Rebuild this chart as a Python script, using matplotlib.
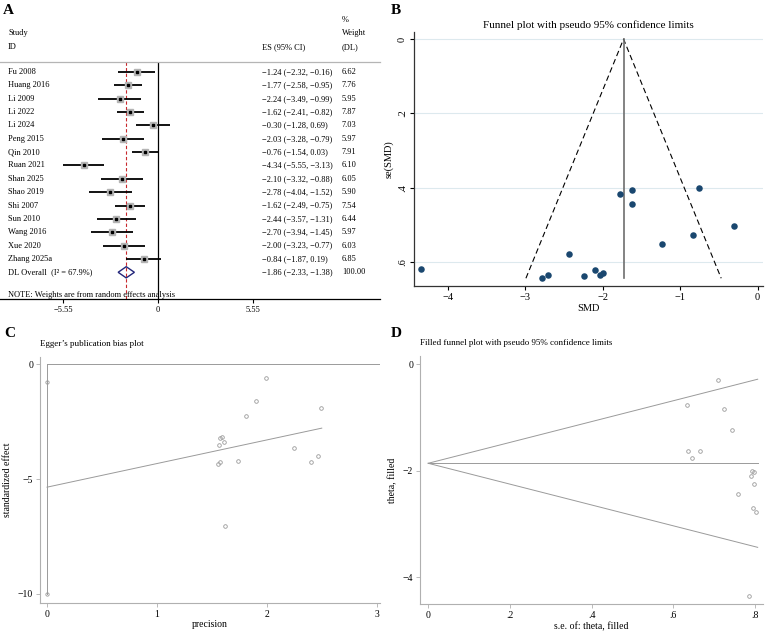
import matplotlib
matplotlib.use("Agg")
import matplotlib.pyplot as plt
from matplotlib.patches import Polygon

plt.rcParams['font.family'] = ['Liberation Serif', 'DejaVu Serif']

W, H = 767, 633

# --- panel A : forest plot data
studies = ["Fu 2008", "Huang 2016", "Li 2009", "Li 2022", "Li 2024", "Peng 2015",
           "Qin 2010", "Ruan 2021", "Shan 2025", "Shao 2019", "Shi 2007", "Sun 2010",
           "Wang 2016", "Xue 2020", "Zhang 2025a"]
es = [-1.24, -1.77, -2.24, -1.62, -0.30, -2.03, -0.76, -4.34, -2.10, -2.78, -1.62, -2.44, -2.70, -2.00, -0.84]
lo = [-2.32, -2.58, -3.49, -2.41, -1.28, -3.28, -1.54, -5.55, -3.32, -4.04, -2.49, -3.57, -3.94, -3.23, -1.87]
hi = [-0.16, -0.95, -0.99, -0.82, 0.69, -0.79, 0.03, -3.13, -0.88, -1.52, -0.75, -1.31, -1.45, -0.77, 0.19]
weights = [6.62, 7.76, 5.95, 7.87, 7.03, 5.97, 7.91, 6.10, 6.05, 5.90, 7.54, 6.44, 5.97, 6.03, 6.85]
ov_es, ov_lo, ov_hi, ov_w = -1.86, -2.33, -1.38, 100.00
i2 = 67.9
forest_ticks = [-5.55, 0, 5.55]

# --- panel B : funnel plot (SMD vs se)
se_b = [0.551, 0.416, 0.638, 0.406, 0.503, 0.635, 0.401, 0.617, 0.622, 0.643, 0.444, 0.577, 0.635, 0.628, 0.526]
fixed_es = -1.73

# --- panel C : Egger plot
precision = [1.815, 2.404, 1.568, 2.465, 1.99, 1.575, 2.49, 1.62, 1.607, 1.556, 2.25, 1.735, 1.575, 1.592, 1.90]
std_eff = [-2.25, -4.25, -3.51, -3.99, -0.60, -3.20, -1.90, -7.03, -3.38, -4.32, -3.65, -4.23, -4.25, -3.18, -1.60]
egger_ci = [-0.76, -10.0]
egger_line_x = [0, 2.50]
egger_line_y = [-5.35, -2.78]

# --- panel D : filled funnel
theta_d = [-0.30, -0.76, -0.84, -1.24, -1.62, -1.62, -1.77, -2.00, -2.03, -2.10, -2.24, -2.44, -2.70, -2.78, -4.35]
se_d = [0.709, 0.632, 0.724, 0.742, 0.636, 0.666, 0.646, 0.791, 0.797, 0.789, 0.798, 0.758, 0.795, 0.803, 0.785]
se_max_d = 0.806


def box(l, t, r, b):
    return [l / W, 1 - b / H, (r - l) / W, (b - t) / H]


def mstr(v):
    return f"{v:.2f}".replace("-", "\u2212")


fig = plt.figure(figsize=(W / 100, H / 100), dpi=100)

# ================= A =================
ax = fig.add_axes(box(0, 62, 380, 299))
px = 17.1
ax.set_xlim(-158 / px, (380 - 158) / px)
ax.set_ylim(17.0, -0.75)
for s in ["left", "right"]:
    ax.spines[s].set_visible(False)
ax.spines["top"].set_color("#b5b5b5")
ax.spines["top"].set_linewidth(0.9)
ax.spines["bottom"].set_linewidth(0.9)
ax.set_yticks([])
ax.set_xticks(forest_ticks)
ax.set_xticklabels([mstr(t) if t else "0" for t in forest_ticks], fontsize=6)
ax.tick_params(axis="x", length=3, width=0.8, pad=2)

ax.plot([0, 0], [-0.75, 17.0], color="black", lw=0.9)
ax.plot([ov_es, ov_es], [-0.75, 17.0], color="#c8282d", lw=0.8, dashes=(3, 2))
rows = list(range(len(studies)))
ax.hlines(rows, lo, hi, color="black", lw=1.3)
ax.plot(es, rows, "s", ms=3.8, color="#b4b4b4")
ax.plot(es, rows, "s", ms=1.8, color="black")
ov_row = len(studies)
ax.add_patch(Polygon([(ov_lo, ov_row), (ov_es, ov_row - 0.42), (ov_hi, ov_row), (ov_es, ov_row + 0.42)],
                     closed=True, fill=False, edgecolor="#23267a", lw=1.0))

fs = 6
xs, xe, xw = -8.77, 6.08, 10.76
for r, name in enumerate(studies):
    ax.text(xs, r, name, fontsize=fs, va="center")
    ax.text(xe, r, f"{mstr(es[r])} ({mstr(lo[r])}, {mstr(hi[r])})", fontsize=fs, va="center")
    ax.text(xw, r, f"{weights[r]:.2f}", fontsize=fs, va="center")
ax.text(xs, ov_row, f"DL Overall  (I\u00b2 = {i2}%)", fontsize=fs, va="center")
ax.text(xe, ov_row, f"{mstr(ov_es)} ({mstr(ov_lo)}, {mstr(ov_hi)})", fontsize=fs, va="center")
ax.text(xw, ov_row, f"{ov_w:.2f}", fontsize=fs, va="center")
ax.text(xs, 16.68, "NOTE: Weights are from random effects analysis", fontsize=fs, va="center")
for txt, x, r in [("Study", xs, -2.92), ("ID", xs, -1.87), ("ES (95% CI)", xe, -1.87),
                  ("%", xw, -3.9), ("Weight", xw, -2.92), ("(DL)", xw, -1.87)]:
    ax.text(x, r, txt, fontsize=fs, va="center", clip_on=False)

# ================= B =================
bx = fig.add_axes(box(414, 32, 763, 285.7))
bx.set_xlim(-4.435, 0.07)
bx.set_ylim(0.663, -0.019)
for s in ["top", "right"]:
    bx.spines[s].set_visible(False)
for s in ["left", "bottom"]:
    bx.spines[s].set_linewidth(0.9)
    bx.spines[s].set_color("#333333")
bx.set_yticks([0, 0.2, 0.4, 0.6])
bx.set_yticklabels(["0", ".2", ".4", ".6"], rotation=90, va="center", fontsize=7.5)
bx.set_xticks([-4, -3, -2, -1, 0])
bx.set_xticklabels(["\u22124", "\u22123", "\u22122", "\u22121", "0"], fontsize=7.5)
bx.tick_params(length=3, width=0.8, pad=2)
bx.grid(axis="y", color="#dde9ee", lw=0.8)
bx.set_axisbelow(True)
se_top = max(se_b)
bx.plot([fixed_es - 1.96 * se_top, fixed_es, fixed_es + 1.96 * se_top], [se_top, 0, se_top],
        color="black", lw=0.8, dashes=(5, 3))
bx.plot([fixed_es, fixed_es], [0, se_top], color="#6e6e6e", lw=1.2)
bx.scatter(es, se_b, s=22, color="#1a476f", zorder=3, linewidths=0)
bx.set_title("Funnel plot with pseudo 95% confidence limits", fontsize=8, pad=3)
bx.set_xlabel("SMD", fontsize=7.5, labelpad=2)
bx.set_ylabel("se(SMD)", fontsize=7.5, labelpad=3)

grey = "#9a9a9a"

# ================= C =================
cx = fig.add_axes(box(40, 356.7, 380, 602.7))
cx.set_xlim(-0.064, 3.03)
cx.set_ylim(-10.38, 0.33)
for s in ["top", "right"]:
    cx.spines[s].set_visible(False)
for s in ["left", "bottom"]:
    cx.spines[s].set_color("#b0b0b0")
    cx.spines[s].set_linewidth(0.8)
cx.set_xticks([0, 1, 2, 3])
cx.set_xticklabels(["0", "1", "2", "3"], fontsize=7)
cx.set_yticks([0, -5, -10])
cx.set_yticklabels(["0", "\u22125", "\u221210"], fontsize=7)
cx.tick_params(length=3, width=0.6, color="#b0b0b0", pad=2)
cx.plot([0, 3.03], [0, 0], color=grey, lw=0.7)
cx.plot([0, 0], [0, egger_ci[1]], color=grey, lw=0.7)
cx.plot(egger_line_x, egger_line_y, color=grey, lw=0.7)
cx.plot([0, 0], egger_ci, "o", ms=2.4, mfc="none", mec=grey, mew=0.6)
cx.plot(precision, std_eff, "o", ms=2.6, mfc="none", mec=grey, mew=0.6, ls="none")
cx.set_title("Egger\u2019s publication bias plot", fontsize=6.5, loc="left", pad=8)
cx.set_xlabel("precision", fontsize=7, labelpad=1)
cx.set_ylabel("standardized effect", fontsize=7, labelpad=4)

# ================= D =================
dx = fig.add_axes(box(420, 356, 763, 604.3))
dx.set_xlim(-0.02, 0.819)
dx.set_ylim(-4.51, 0.156)
for s in ["top", "right"]:
    dx.spines[s].set_visible(False)
for s in ["left", "bottom"]:
    dx.spines[s].set_color("#b0b0b0")
    dx.spines[s].set_linewidth(0.8)
dx.set_xticks([0, 0.2, 0.4, 0.6, 0.8])
dx.set_xticklabels(["0", ".2", ".4", ".6", ".8"], fontsize=7)
dx.set_yticks([0, -2, -4])
dx.set_yticklabels(["0", "\u22122", "\u22124"], fontsize=7)
dx.tick_params(length=3, width=0.6, color="#b0b0b0", pad=2)
for k in [1.96, 0, -1.96]:
    dx.plot([0, se_max_d], [ov_es, ov_es + k * se_max_d], color=grey, lw=0.7)
dx.plot(se_d, theta_d, "o", ms=2.6, mfc="none", mec=grey, mew=0.6, ls="none")
dx.set_title("Filled funnel plot with pseudo 95% confidence limits", fontsize=6.5, loc="left", pad=8)
dx.set_xlabel("s.e. of: theta, filled", fontsize=7, labelpad=1)
dx.set_ylabel("theta, filled", fontsize=7, labelpad=4)

# panel letters
for lab, x, y in [("A", 3, 4), ("B", 391, 4), ("C", 4, 327), ("D", 391, 327)]:
    fig.text(x / W, 1 - y / H, lab, fontsize=11, fontweight="bold", va="top", ha="left")

fig.savefig("out.png", dpi=100)
